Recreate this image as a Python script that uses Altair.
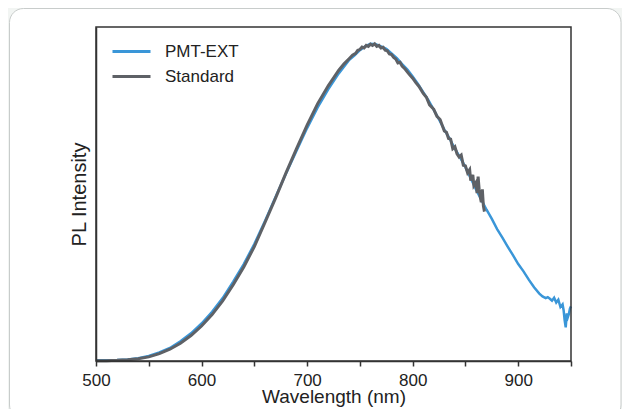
import altair as alt
import pandas as pd

# ---- data ----
wl_pmt = [500, 510, 520, 530, 540, 550, 560, 570, 580, 590, 600, 610, 620, 630, 640,
          650, 660, 670, 680, 690, 700, 710, 720, 730, 740,
          745, 750, 755, 760, 765, 770, 775, 780, 785, 790, 795, 800, 805, 810, 815,
          820, 825, 830, 835, 840, 845, 850, 855, 860, 865, 870, 875, 880, 885, 890,
          895, 900, 905, 910, 915, 920,
          923, 926, 928, 930, 932, 934, 936, 938, 940, 942, 943, 944, 945, 946, 947,
          948, 949, 950]
int_pmt = [0.002, 0.002, 0.003, 0.005, 0.009, 0.016, 0.027, 0.041, 0.062, 0.087,
           0.118, 0.155, 0.198, 0.250, 0.305, 0.368, 0.440, 0.515, 0.590, 0.662,
           0.733, 0.798, 0.855, 0.905, 0.948,
           0.962, 0.978, 0.990, 0.998, 0.997, 0.990, 0.982, 0.968, 0.953, 0.934,
           0.917, 0.895, 0.872, 0.846, 0.820, 0.790, 0.760, 0.728, 0.700, 0.668,
           0.640, 0.610, 0.575, 0.540, 0.508, 0.476, 0.447, 0.415, 0.388, 0.360,
           0.333, 0.305, 0.282, 0.256, 0.232, 0.212,
           0.203, 0.198, 0.201, 0.196, 0.190, 0.199, 0.184, 0.193, 0.170, 0.178,
           0.160, 0.128, 0.106, 0.150, 0.138, 0.148, 0.165, 0.172]

wl_std = [500, 510, 520, 530, 540, 550, 560, 570, 580, 590, 600, 610, 620, 630, 640,
          650, 660, 670, 680, 690, 700, 710, 720, 730,
          735, 740, 743, 746, 748, 750, 752, 754, 756, 758,
          760, 762, 764, 766, 768, 770, 772, 774, 776, 778,
          780, 782, 784, 786, 788, 790, 793, 796, 800, 803,
          806, 810, 813, 816, 820, 823, 826, 830, 832, 834,
          836, 838, 840, 842, 844, 846, 848, 850, 852, 854,
          855, 857, 858, 860, 861, 862, 863, 864, 865, 866,
          867, 868]
int_std = [0.001, 0.001, 0.002, 0.004, 0.007, 0.013, 0.023, 0.037, 0.056, 0.080,
           0.110, 0.146, 0.189, 0.240, 0.296, 0.360, 0.435, 0.512, 0.592, 0.668,
           0.742, 0.810, 0.866, 0.915,
           0.935, 0.952, 0.962, 0.968, 0.978, 0.980, 0.988, 0.985, 0.993, 0.990,
           0.997, 0.993, 0.998, 0.990, 0.993, 0.985, 0.987, 0.978, 0.976, 0.966,
           0.964, 0.955, 0.950, 0.938, 0.940, 0.928, 0.918, 0.905, 0.890, 0.876,
           0.864, 0.842, 0.830, 0.806, 0.792, 0.770, 0.760, 0.724, 0.720, 0.700,
           0.698, 0.668, 0.674, 0.652, 0.642, 0.648, 0.616, 0.614, 0.592, 0.602,
           0.568, 0.586, 0.552, 0.562, 0.528, 0.580, 0.540, 0.518, 0.500, 0.540,
           0.488, 0.470]

series_names = ["PMT-EXT", "Standard"]
series_colors = ["#3a96d8", "#5e6166"]
x_ticks = [500, 550, 600, 650, 700, 750, 800, 850, 900, 950]

df = pd.concat([
    pd.DataFrame({"wl": wl_pmt, "pl": int_pmt, "series": series_names[0]}),
    pd.DataFrame({"wl": wl_std, "pl": int_std, "series": series_names[1]}),
], ignore_index=True)

FONT = "Liberation Sans"
INK = "#222222"
FRAME = "#333333"

one = pd.DataFrame({"k": [0]})

card = alt.Chart(one).mark_rect(
    fill="white", stroke="#c8cccb", strokeWidth=1, cornerRadius=14
).encode(
    x=alt.value(-86.5), x2=alt.value(525), y=alt.value(-18.5), y2=alt.value(392)
)

frame = alt.Chart(one).mark_rect(
    fill=None, stroke=FRAME, strokeWidth=1.5
).encode(
    x=alt.value(0), x2=alt.value("width"), y=alt.value(0), y2=alt.value("height")
)

color = alt.Color(
    "series:N",
    scale=alt.Scale(domain=series_names, range=series_colors),
    legend=alt.Legend(
        title=None, orient="none", legendX=24.5, legendY=13.5,
        symbolType="M-2,0H2", symbolSize=361, symbolStrokeWidth=3,
        labelFont=FONT, labelFontSize=17, labelColor=INK,
        labelOffset=22.5, rowPadding=6, padding=0,
    ),
)

x = alt.X("wl:Q", title="Wavelength (nm)",
          scale=alt.Scale(domain=[500, 950], nice=False, zero=False),
          axis=alt.Axis(values=x_ticks,
                        labelExpr="datum.value % 100 == 0 ? datum.label : ''",
                        labelFlush=False, labelOverlap=False,
                        grid=False, tickSize=5, tickWidth=1.5, tickColor=FRAME,
                        domainColor=FRAME, domainWidth=1.5, zindex=2,
                        labelFont=FONT, labelFontSize=17, labelColor=INK,
                        labelPadding=6, titleFont=FONT, titleFontSize=19,
                        titleFontWeight="normal", titleColor=INK,
                        titleY=26, titleBaseline="top"))
y = alt.Y("pl:Q", title="PL Intensity",
          scale=alt.Scale(domain=[0, 1.051], nice=False),
          axis=alt.Axis(labels=False, ticks=False, grid=False,
                        domainColor=FRAME, domainWidth=1.5, zindex=2,
                        titleFont=FONT, titleFontSize=20, titleFontWeight="normal",
                        titleColor=INK, titlePadding=6.5))

blue = alt.Chart(df).transform_filter(
    alt.datum.series == series_names[0]
).mark_line(strokeWidth=2.5).encode(x=x, y=y, color=color)

gray = alt.Chart(df).transform_filter(
    alt.datum.series == series_names[1]
).mark_line(strokeWidth=3).encode(x=x, y=y, color=color)

chart = alt.layer(card, blue, gray, frame).properties(
    width=475, height=334,
    autosize=alt.AutoSizeParams(type="none"),
    padding={"left": 88, "top": 19, "right": 51, "bottom": 48},
    background="#f2f5f3",
).configure_view(stroke=None, fill=None)

chart.save("out.html", embed_options={"renderer": "svg", "actions": False})
